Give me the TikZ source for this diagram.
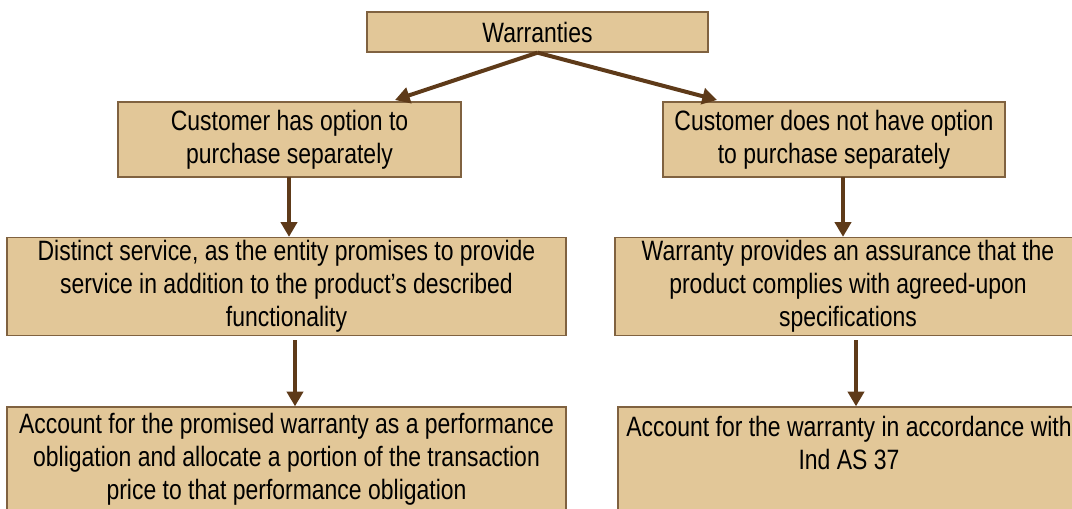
\documentclass[tikz,border=0pt]{standalone}
\usepackage{fontspec}
\setmainfont{Liberation Sans}[FakeStretch=0.82]
\usepackage{tikz}
\usetikzlibrary{shapes,arrows.meta}
\definecolor{boxfill}{RGB}{226,199,152}
\definecolor{boxline}{RGB}{128,98,64}
\definecolor{arrowbrown}{RGB}{94,58,25}

\begin{document}
\begin{tikzpicture}[x=0.75pt, y=-0.75pt]
		\tikzstyle{box} = [rectangle, draw=boxline, fill=boxfill, line width=1pt, align=center, inner sep=2pt, font=\fontsize{21}{24.75}\selectfont]
		\tikzstyle{arr} = [draw=arrowbrown, line width=3pt, -{Triangle[width=12pt, length=11pt]}, arrowbrown]
		\useasboundingbox (0,0) rectangle (1072,508);

		% top level
		\node[box, minimum width=255.75pt, minimum height=30pt] (warr) at (537.5,32) {Warranties};

		% option to purchase
		\node[box, minimum width=257.25pt, minimum height=56.25pt] (opt-yes) at (289.5,139.5) {Customer has option to\\purchase separately};
		\node[box, minimum width=256.5pt, minimum height=56.25pt] (opt-no) at (834,139.5) {Customer does not have option\\to purchase separately};

		% nature of warranty
		\node[box, minimum width=419.25pt, minimum height=73.5pt] (service) at (286.5,286.5) {Distinct service, as the entity promises to provide\\service in addition to the product's described\\functionality};
		\node[box, minimum width=349.5pt, minimum height=73.5pt] (assure) at (848,286.5) {Warranty provides an assurance that the\\product complies with agreed-upon\\specifications};

		% accounting
		\node[box, minimum width=419.25pt, minimum height=78pt] (acc-yes) at (286.5,459) {Account for the promised warranty as a performance\\obligation and allocate a portion of the transaction\\price to that performance obligation};
		\node[box, minimum width=346.5pt, minimum height=78pt] (acc-no) at (849,459) {Account for the warranty in accordance with\\Ind AS 37\\~};

		% connections
		\coordinate (yes-in) at (395,100);
		\coordinate (no-in) at (717,100);
		\path[arr] (warr.south) -- (yes-in);
		\path[arr] (warr.south) -- (no-in);

		\coordinate (yes-out) at (289,177);
		\coordinate (no-out) at (843,177);
		\path[arr] (yes-out) -- (yes-out |- service.north);
		\path[arr] (no-out) -- (no-out |- assure.north);

		\coordinate (service-out) at (295,340);
		\coordinate (assure-out) at (856,340);
		\path[arr] (service-out) -- (service-out |- acc-yes.north);
		\path[arr] (assure-out) -- (assure-out |- acc-no.north);
	\end{tikzpicture}
\end{document}
